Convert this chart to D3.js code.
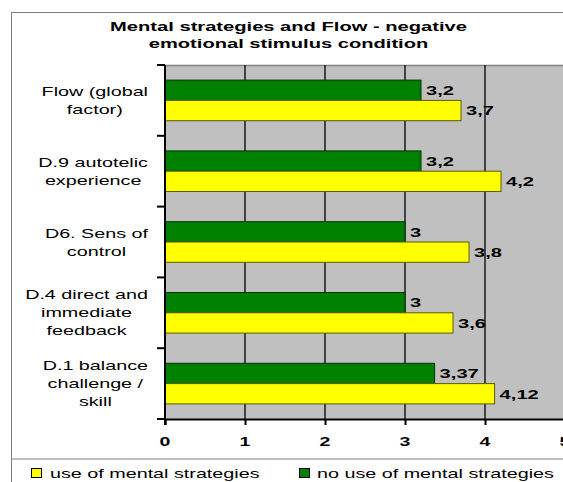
<!DOCTYPE html>
<html>
<head>
<meta charset="utf-8">
<script src="https://cdn.jsdelivr.net/npm/d3@7/dist/d3.min.js"></script>
<style>
  html, body { margin: 0; padding: 0; background: #fff; overflow: hidden; }
  svg { display: block; }
  text { font-family: Arial, "Liberation Sans", Helvetica, sans-serif; fill: #000; }
</style>
</head>
<body>
<svg id="chart" width="563" height="482"></svg>
<script>
// ---- data ----
const titleLines = ["Mental strategies and Flow - negative", "emotional stimulus condition"];
const categories = ["Flow (global factor)", "D.9 autotelic experience", "D6. Sens of control", "D.4 direct and immediate feedback", "D.1 balance challenge / skill"];
const categoryLines = [
  ["Flow (global", "factor)"],
  ["D.9 autotelic", "experience"],
  ["D6. Sens of", "control"],
  ["D.4 direct and", "immediate", "feedback"],
  ["D.1 balance", "challenge /", "skill"]
];
const seriesNames = ["no use of mental strategies", "use of mental strategies"];
const noUseValues = [3.2, 3.2, 3, 3, 3.37];
const useValues = [3.7, 4.2, 3.8, 3.6, 4.12];
const xTicks = [0, 1, 2, 3, 4, 5];
const seriesColors = ["#008000", "#FFFF00"];
const seriesStrokes = ["#003300", "#5a5a00"];

// ---- layout ----
const SX = 1.58; // horizontal text stretch of the reference
const svg = d3.select("#chart");
const plot = { left: 165, right: 565, top: 65, bottom: 419 };

function stretchedText(g, x, y, str, size, weight, anchor, sx) {
  return g.append("text")
    .attr("transform", `translate(${x},${y}) scale(${sx || SX},1)`)
    .attr("text-anchor", anchor || "start")
    .style("font-size", size + "px")
    .style("font-weight", weight || "normal")
    .text(str);
}

// chart area border
svg.append("rect").attr("x", 11.5).attr("y", 12.5).attr("width", 600).attr("height", 500)
  .attr("fill", "#fff").attr("stroke", "#808080").attr("stroke-width", 1);

// title
titleLines.forEach((t, i) => {
  stretchedText(svg, 288.5, 26 + i * 17 + 4.8, t, 13, "bold", "middle", 1.55);
});

// scales
const x = d3.scaleLinear().domain([0, 5]).range([plot.left, plot.right]);
const y = d3.scaleBand().domain(categories).range([plot.top, plot.bottom])
  .paddingInner(0.4266).paddingOuter(0.2133);
const ySub = d3.scaleBand().domain(seriesNames).range([0, y.bandwidth()]);

// plot area background
svg.append("rect").attr("x", plot.left).attr("y", plot.top)
  .attr("width", plot.right - plot.left).attr("height", plot.bottom - plot.top)
  .attr("fill", "#C0C0C0");
svg.append("line").attr("x1", plot.left).attr("x2", plot.right + 10)
  .attr("y1", plot.top + 0.5).attr("y2", plot.top + 0.5)
  .attr("stroke", "#808080").attr("stroke-width", 1.5);

// gridlines
svg.append("g").selectAll("line").data(xTicks.filter(d => d > 0)).join("line")
  .attr("x1", d => x(d)).attr("x2", d => x(d))
  .attr("y1", plot.top).attr("y2", plot.bottom)
  .attr("stroke", "#000").attr("stroke-width", 1.3);

// bars
const series = [noUseValues, useValues];
series.forEach((vals, si) => {
  svg.append("g").selectAll("rect").data(categories).join("rect")
    .attr("x", x(0))
    .attr("y", c => y(c) + ySub(seriesNames[si]))
    .attr("width", (c, i) => x(vals[i]) - x(0))
    .attr("height", ySub.bandwidth())
    .attr("fill", seriesColors[si])
    .attr("stroke", seriesStrokes[si]).attr("stroke-width", 1);
  const lg = svg.append("g");
  categories.forEach((c, i) => {
    const cy = y(c) + ySub(seriesNames[si]) + ySub.bandwidth() / 2;
    stretchedText(lg, x(vals[i]) + 5, cy + 4.8, String(vals[i]).replace(".", ","), 13, "bold", "start", 1.55);
  });
});

// y axis (category)
const yAxis = d3.axisLeft(y).tickSize(0).tickFormat("");
svg.append("line").attr("x1", plot.left).attr("x2", plot.left)
  .attr("y1", plot.top).attr("y2", plot.bottom + 6)
  .attr("stroke", "#000").attr("stroke-width", 2);
const boundaries = categories.map(c => y(c) - y.step() * y.paddingInner() / 2).concat([plot.bottom]);
boundaries[0] = plot.top;
svg.append("g").selectAll("line").data(boundaries).join("line")
  .attr("x1", plot.left - 8).attr("x2", plot.left)
  .attr("y1", d => d).attr("y2", d => d)
  .attr("stroke", "#000").attr("stroke-width", 2);

// x axis
const xAxisG = svg.append("g").attr("transform", `translate(0,${plot.bottom})`)
  .call(d3.axisBottom(x).tickValues(xTicks).tickSize(6).tickFormat(""));
xAxisG.select(".domain").attr("stroke", "#000").attr("stroke-width", 2);
xAxisG.selectAll(".tick line").attr("stroke", "#000").attr("stroke-width", 2);
xTicks.forEach(t => {
  stretchedText(svg, x(t), 441 + 4.6, String(t), 13, "bold", "middle", 1.5);
});

// category labels
categories.forEach((c, i) => {
  const lines = categoryLines[i];
  const g = svg.append("g");
  const cy = y(c) + y.bandwidth() / 2;
  const lh = 18;
  const startY = cy - (lines.length - 1) * lh / 2;
  const nodes = lines.map((ln, j) => stretchedText(g, 0, startY + j * lh + 4.5, ln, 12.5, "normal", "middle"));
  const maxW = d3.max(nodes, n => n.node().getComputedTextLength()) * SX;
  const cx = 148 - maxW / 2;
  nodes.forEach((n, j) => n.attr("transform", `translate(${cx},${startY + j * lh + 4.5}) scale(${SX},1)`));
});

// legend
svg.append("line").attr("x1", 11.5).attr("x2", 600).attr("y1", 459).attr("y2", 459)
  .attr("stroke", "#808080").attr("stroke-width", 1);
const legendItems = [
  { name: seriesNames[1], color: seriesColors[1], sx: 31, tx: 50 },
  { name: seriesNames[0], color: seriesColors[0], sx: 299, tx: 317 }
];
legendItems.forEach(d => {
  svg.append("rect").attr("x", d.sx + 0.5).attr("y", 468.5).attr("width", 10).attr("height", 9)
    .attr("fill", d.color).attr("stroke", "#000").attr("stroke-width", 1);
  stretchedText(svg, d.tx, 473 + 4.5, d.name, 12.5, "normal", "start");
});
</script>
</body>
</html>
